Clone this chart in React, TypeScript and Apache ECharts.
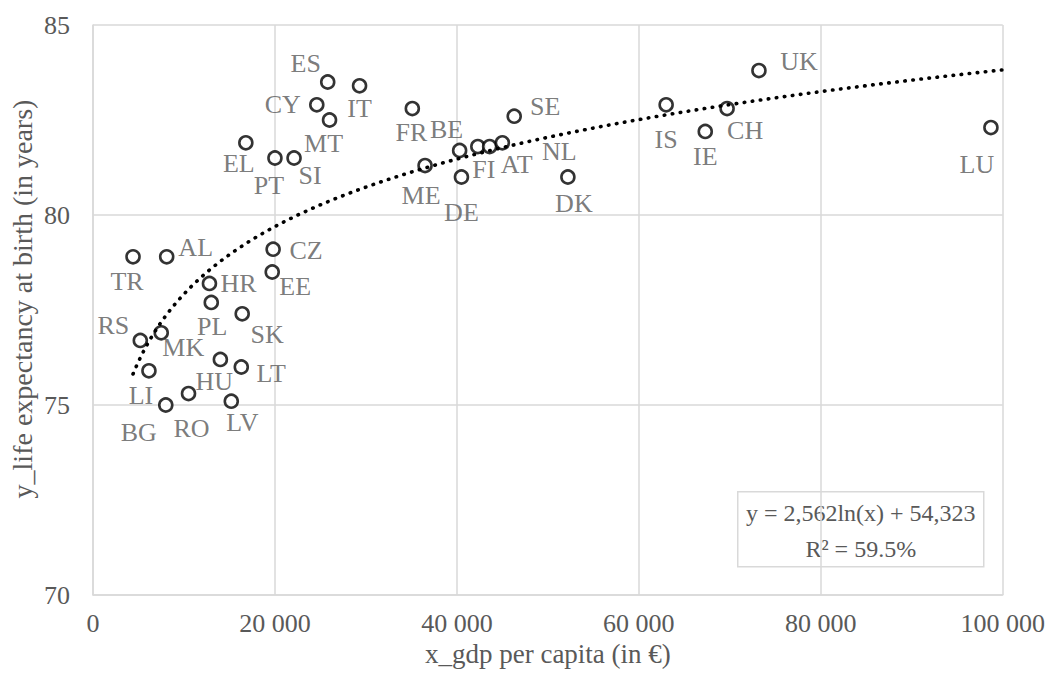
import React, { useEffect, useRef } from "react";
import * as echarts from "echarts";

const countries = ["TR","AL","CZ","EE","HR","PL","SK","RS","MK","LI","HU","LT","RO","BG","LV","ES","IT","CY","MT","EL","PT","SI","FR","ME","BE","DE","FI","AT","NL","SE","DK","UK","IS","IE","CH","LU"];
const gdpPerCapita = [4400,8100,19800,19700,12800,13000,16400,5200,7500,6150,14000,16300,10500,8000,15200,25800,29300,24600,26000,16800,20000,22100,35100,36500,40300,40500,42300,43600,45000,46300,52200,73200,63000,67300,69700,98700];
const lifeExpectancy = [78.9,78.9,79.1,78.5,78.2,77.7,77.4,76.7,76.9,75.9,76.2,76.0,75.3,75.0,75.1,83.5,83.4,82.9,82.5,81.9,81.5,81.5,82.8,81.3,81.7,81.0,81.8,81.8,81.9,82.6,81.0,83.8,82.9,82.2,82.8,82.3];
// label offsets (layout only)
const labelOffsets = [[-6,25],[29,-9],[33,1],[23,14],[29,0],[1,24],[25,21],[-27,-15],[22,15],[-8,25],[-6,22],[30,6],[3,35],[-27,27],[11,21],[-22,-19],[0,23],[-34,0],[-6,23],[-7,21],[-6,27],[16,17],[-1,24],[-4,30],[-13,-21],[0,35],[6,23],[27,18],[57,9],[31,-10],[6,26],[40,-9],[0,35],[0,25],[18,22],[-14,37]];

const yTicks = [70, 75, 80, 85];
const xTickStep = 20000;
const trendCoefA = 2.562;
const trendCoefB = 54.323;
const trendXStart = 4400;
const trendXEnd = 100000;
const equationText = "y = 2,562ln(x) + 54,323";
const r2Text = "R² = 59.5%";
const xTitle = "x_gdp per capita (in €)";
const yTitle = "y_life expectancy at birth (in years)";

const FONT = "Liberation Serif";
const GREY = "#595959";
const GRID = "#d9d9d9";

export default function App() {
  const ref = useRef<HTMLDivElement>(null);
  useEffect(() => {
    if (!ref.current) return;
    const chart = echarts.init(ref.current, undefined, { renderer: "svg" });
    const trend: number[][] = [];
    const steps = 300;
    for (let i = 0; i <= steps; i++) {
      const x = trendXStart + ((trendXEnd - trendXStart) * i) / steps;
      trend.push([x, trendCoefA * Math.log(x) + trendCoefB]);
    }
    const points = countries.map((c, i) => ({
      name: c,
      value: [gdpPerCapita[i], lifeExpectancy[i]],
      label: { offset: labelOffsets[i] },
    }));
    chart.setOption({
      animation: false,
      backgroundColor: "#ffffff",
      textStyle: { fontFamily: FONT },
      grid: { left: 93, right: 45, top: 25, bottom: 84 },
      xAxis: {
        type: "value",
        min: 0,
        max: 100000,
        interval: xTickStep,
        name: xTitle,
        nameLocation: "middle",
        nameGap: 45,
        nameTextStyle: { fontFamily: FONT, fontSize: 27, color: GREY },
        axisLine: { show: true, lineStyle: { color: GRID, width: 1.5 } },
        axisTick: { show: false },
        splitLine: { show: true, lineStyle: { color: GRID, width: 1.5 } },
        axisLabel: {
          fontFamily: FONT,
          fontSize: 26,
          color: GREY,
          margin: 15,
          formatter: (v: number) => v.toString().replace(/\B(?=(\d{3})+(?!\d))/g, " "),
        },
      },
      yAxis: {
        type: "value",
        min: yTicks[0],
        max: yTicks[yTicks.length - 1],
        interval: 5,
        axisLine: { show: true, lineStyle: { color: GRID, width: 1.5 } },
        axisTick: { show: false },
        splitLine: { show: true, lineStyle: { color: GRID, width: 1.5 } },
        axisLabel: { fontFamily: FONT, fontSize: 26, color: GREY, margin: 23 },
      },
      series: [
        {
          type: "scatter",
          data: points,
          symbol: "circle",
          symbolSize: 13,
          itemStyle: { color: "#ffffff", borderColor: "#000000", borderWidth: 2.6 },
          label: {
            show: true,
            position: "inside",
            formatter: "{b}",
            fontFamily: FONT,
            fontSize: 26,
            color: GREY,
          },
          z: 2,
        },
        {
          type: "line",
          data: trend,
          showSymbol: false,
          symbol: "none",
          smooth: false,
          lineStyle: { color: "#000000", width: 3.6, type: [0.5, 7.6], cap: "round" },
          z: 3,
        },
      ],
      graphic: [
        {
          type: "text",
          x: 22,
          y: 299,
          rotation: Math.PI / 2,
          style: { text: yTitle, fontFamily: FONT, fontSize: 28, fill: GREY, align: "center", verticalAlign: "middle" },
        },
        {
          type: "group",
          left: 737,
          top: 491,
          children: [
            {
              type: "rect",
              shape: { x: 0, y: 0, width: 246, height: 75 },
              style: { fill: "#ffffff", stroke: GRID, lineWidth: 1.5 },
            },
            {
              type: "text",
              x: 123,
              y: 21,
              style: { text: equationText, fontFamily: FONT, fontSize: 24, fill: GREY, align: "center", verticalAlign: "middle" },
            },
            {
              type: "text",
              x: 123,
              y: 57,
              style: { text: r2Text, fontFamily: FONT, fontSize: 24, fill: GREY, align: "center", verticalAlign: "middle" },
            },
          ],
        },
      ],
    });
    return () => chart.dispose();
  }, []);
  return <div ref={ref} style={{ position: "fixed", left: 0, top: 0, width: 1048, height: 679 }} />;
}
